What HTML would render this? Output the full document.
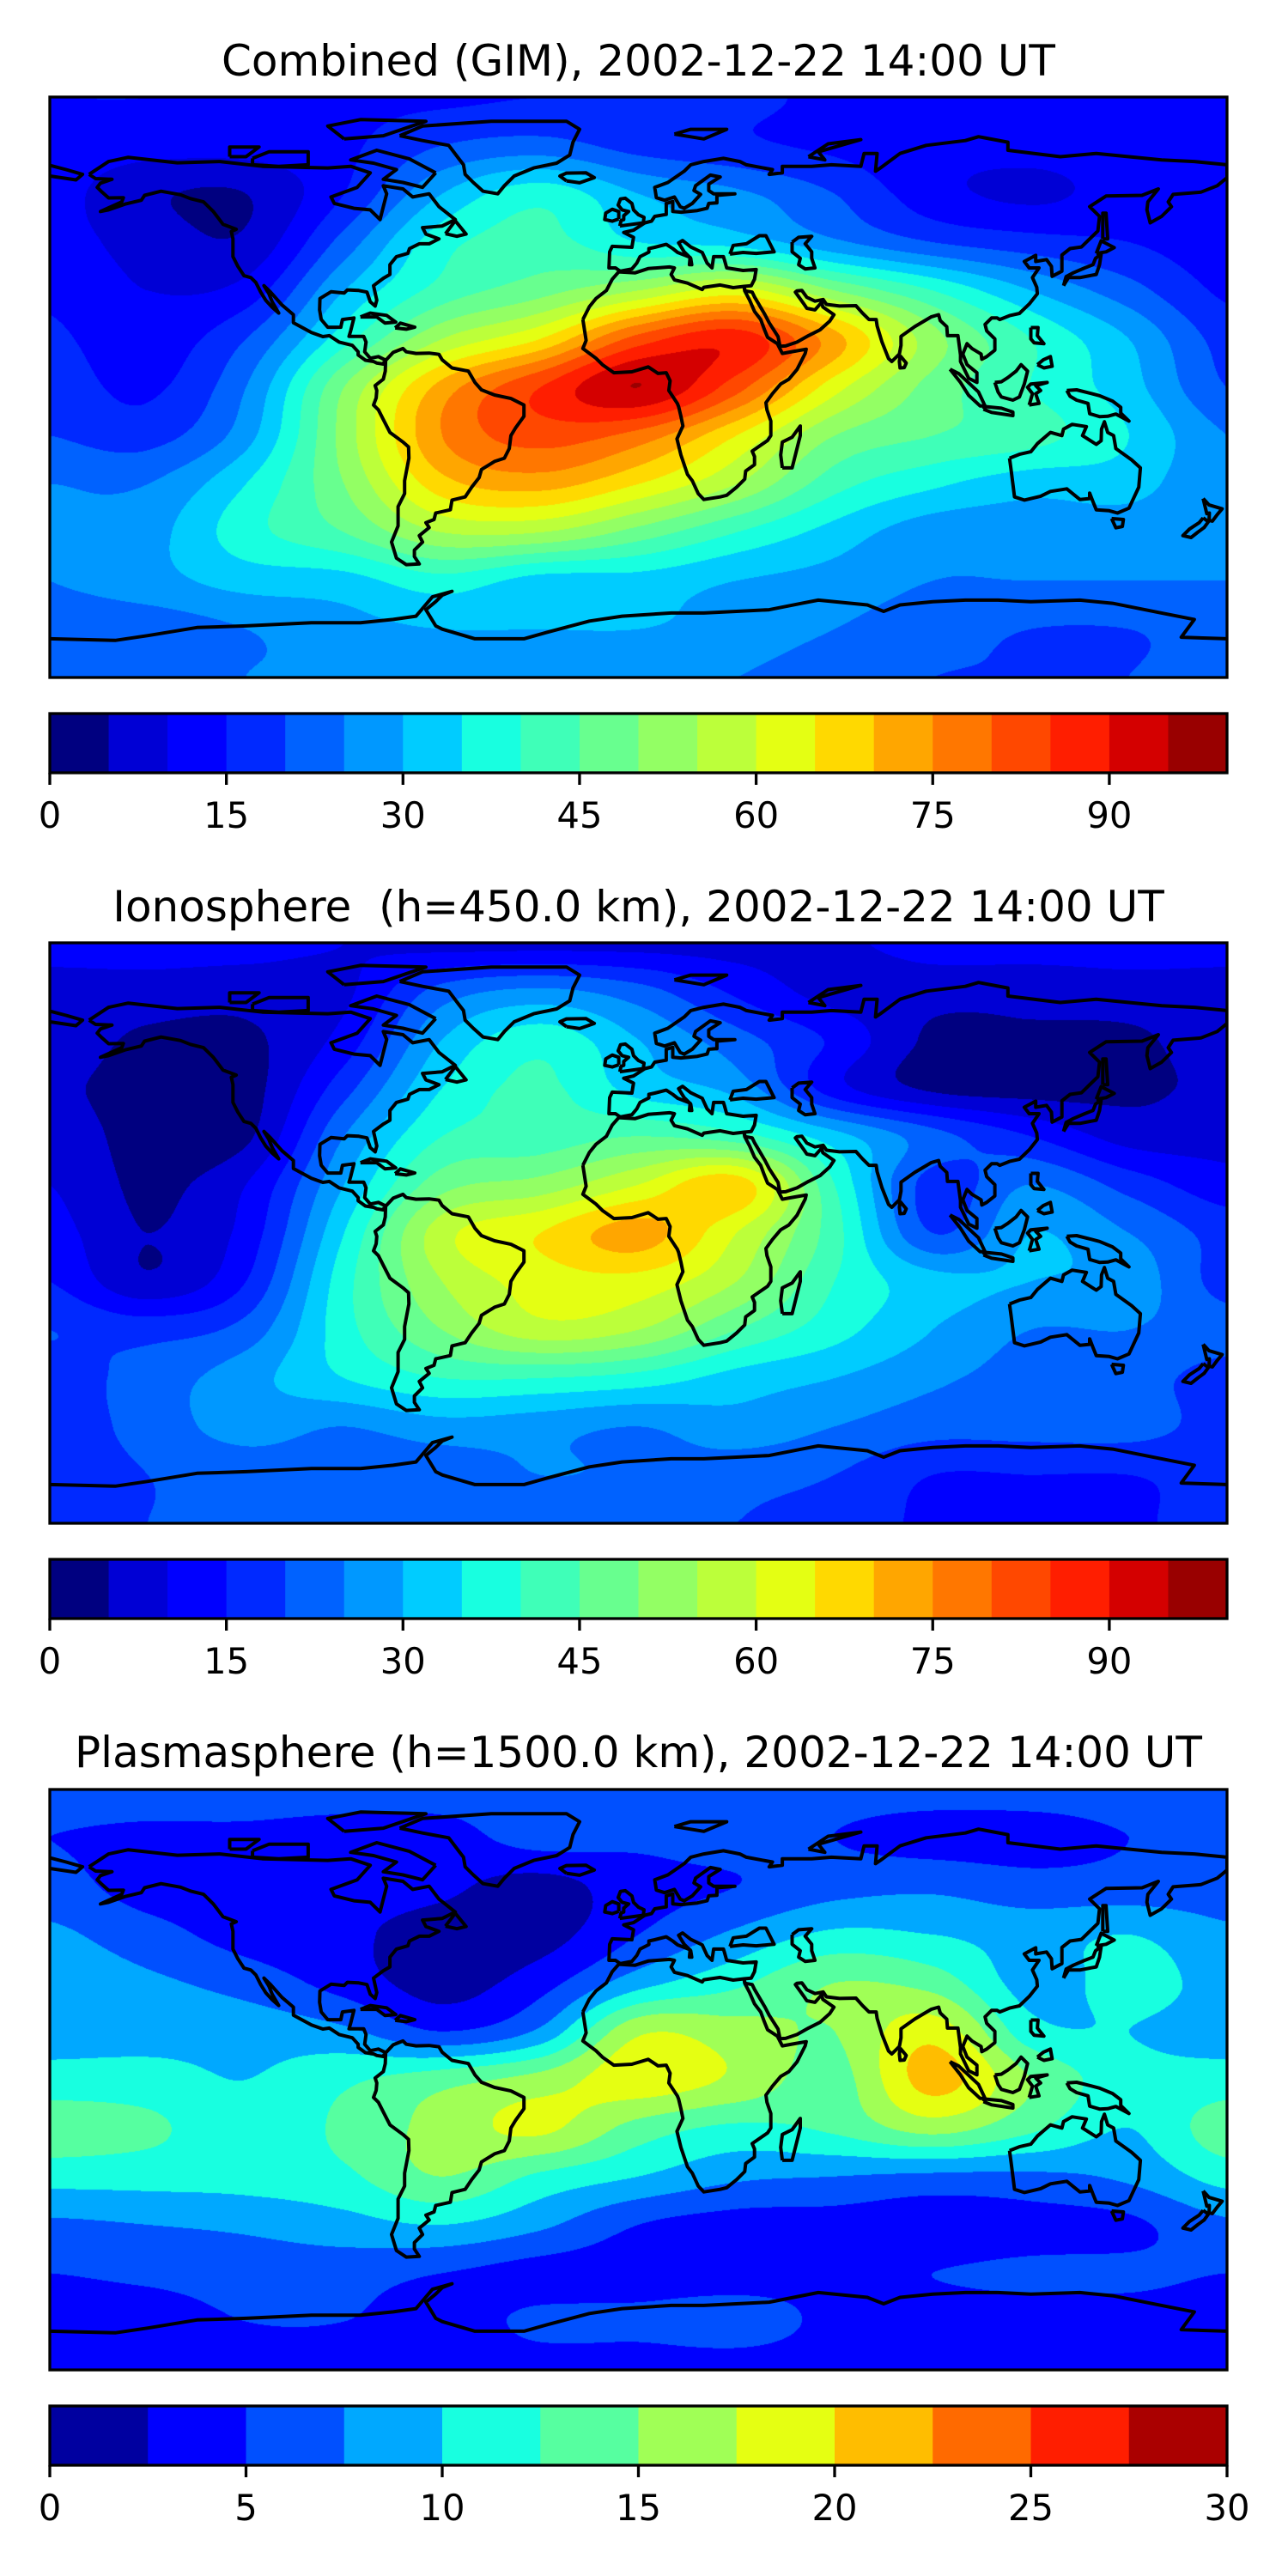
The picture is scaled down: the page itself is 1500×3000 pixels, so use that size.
<!DOCTYPE html>
<html><head><meta charset="utf-8">
<style>
html,body{margin:0;padding:0;background:#fff;}
#root{position:relative;width:1500px;height:3000px;overflow:hidden;background:#fff;}
canvas{position:absolute;}
svg{position:absolute;left:0;top:0;}
text{font-family:"DejaVu Sans","Liberation Sans",sans-serif;fill:#000;}
</style></head>
<body>
<div id="root">
<canvas id="c0" width="1371" height="676" style="left:58px;top:113px"></canvas>
<canvas id="c1" width="1371" height="676" style="left:58px;top:1098px"></canvas>
<canvas id="c2" width="1371" height="676" style="left:58px;top:2084px"></canvas>
<svg id="ov" width="1500" height="3000" xmlns="http://www.w3.org/2000/svg">
<text x="743.5" y="88" font-size="50" text-anchor="middle">Combined (GIM), 2002-12-22 14:00 UT</text>
<text x="743.5" y="1073" font-size="50" text-anchor="middle" xml:space="preserve" style="white-space:pre">Ionosphere  (h=450.0 km), 2002-12-22 14:00 UT</text>
<text x="743.5" y="2058" font-size="50" text-anchor="middle">Plasmasphere (h=1500.0 km), 2002-12-22 14:00 UT</text>
</svg>
</div>
<script>
// ---- grid axes ----
const LONS = [-180,-150,-120,-90,-60,-30,0,30,60,90,120,150,180];
const LATS = [90,75,60,45,30,15,0,-15,-30,-45,-60,-75,-90];
// ---- combined TEC (TECU) ----
const combinedTEC = [
[15,15,14,14,14,15,15,16,14,14,14,14,15],
[13,12,12,14,20,22,18,16,14,12,12,13,13],
[12,6,5,15,30,38,30,26,20,12,9,12,12],
[12,8,6,22,38,42,35,33,26,20,17,15,12],
[14,10,12,30,42,48,55,62,50,40,30,22,14],
[16,12,20,38,55,65,82,88,72,52,40,30,18],
[18,14,25,50,72,85,95,82,62,48,40,32,20],
[20,18,28,52,75,82,78,65,50,45,42,35,25],
[25,25,35,50,68,72,65,55,42,36,32,32,25],
[25,28,38,45,55,55,48,40,33,27,27,27,25],
[25,28,32,33,38,33,33,30,28,25,25,25,25],
[22,22,25,28,30,30,30,28,25,22,20,20,22],
[22,22,25,25,25,25,25,25,22,20,20,20,22]];
// ---- ionosphere TEC ----
const ionoTEC = [
[12,12,12,10,8,8,8,8,9,12,12,12,12],
[8,8,7,9,22,26,22,14,8,7,7,8,8],
[8,4,4,12,30,38,30,22,14,4,4,4,8],
[6,3,3,18,35,41,33,28,12,4,3,4,6],
[8,3,4,25,40,42,45,42,32,22,15,8,8],
[10,4,10,30,48,52,60,68,40,18,25,18,12],
[12,5,12,35,58,65,72,60,42,20,30,25,18],
[15,6,15,38,55,62,63,55,40,32,30,28,18],
[20,18,22,38,50,58,55,45,37,30,25,25,22],
[18,22,28,35,40,40,38,33,30,26,23,22,18],
[17,22,27,25,28,27,25,28,25,22,22,22,18],
[17,20,22,22,22,25,24,22,20,15,15,15,17],
[20,20,22,22,22,22,22,20,18,14,14,14,18]];
// ---- plasmasphere TEC ----
const plasmaTEC = [
[6,6,6,6,6,6,6,6,6,6,6,6,6],
[5,4.5,4.5,4,4,6,5.5,6,5,4,4,5,5],
[6,4,4,3.5,3,1.5,4,5,6.5,7,6,6,6],
[8,6,4,3,1.5,1.5,5,8,10.5,10,9,10,8],
[9,8,6.5,4,1.5,4,9,12,15,14,9,11,9],
[9,9,9,8,5,8,17,16,15,19,11,10,9],
[11,11,10,12,14,16,19,17,14,21,15,11,11],
[14,13,11,13,16,18,14,12,13,16,13,10,14],
[11,11,11,12,15,12,10,8,7.5,7,7,8,11],
[7,7.5,8,9,10,8,5,4,4,3.5,4,4.5,7],
[5,5.5,6,6,5,4,4,4,4.5,5,5.5,5.5,5],
[4,4,5,5,4,5.5,5.5,6,4.5,4,4,4,4],
[4,4,4,4,4,4,4,4,4,4,4,4,4]];
// ---- colorbar ticks ----
const ticksTEC = [0,15,30,45,60,75,90];
const ticksPlasma = [0,5,10,15,20,25,30];
const colors20 = ["#000080","#0000d5","#0000ff","#0029ff","#0062ff","#0098ff","#00ccff","#18ffe0","#3fffb8","#68ff8f","#93ff64","#bcff3a","#e4ff13","#ffd900","#ffa600","#ff7700","#ff4800","#ff1e00","#d40000","#990000"];
const colors12 = ["#0000a0","#0000ff","#0050ff","#00a8ff","#18ffe0","#56ffa0","#a0ff56","#e5ff12","#ffbd00","#ff6a00","#ff1e00","#aa0000"];

const coasts = [
[[-168,66],[-162,70],[-156,71.3],[-141,69.6],[-128,70],[-115,68.5],[-95,68],[-88,68.5],[-82,66.5],[-86,62],[-94,59],[-93,57],[-87,55.5],[-82,55],[-79,52],[-78,56],[-77,60],[-78,62.5],[-72,61.5],[-69,59],[-64,60],[-61,56],[-56,52],[-60,50],[-66,49.5],[-65,47.5],[-61,46],[-64,44.5],[-67,44.5],[-70,43],[-70.5,41.5],[-74,40.5],[-76,38],[-76,35],[-78,33.8],[-81,31.5],[-80,27],[-80.5,25.2],[-82,26.5],[-83,29.5],[-85.5,30],[-89,30.2],[-90,29.2],[-94,29.6],[-97.4,27.5],[-97.5,24],[-97,21],[-95,18.6],[-91,18.6],[-90.5,21],[-87,21.5],[-88,17.5],[-88.5,15.8],[-84,15.8],[-83.3,14],[-83.7,11],[-82,9],[-79.5,9.5],[-77.5,8.5],[-78,7.2],[-80,7.5],[-81,8],[-83.5,8.4],[-85.7,10],[-85.7,11],[-87.5,13],[-91.5,14],[-94.5,16],[-96.5,15.7],[-100,17],[-105.5,20],[-105.5,22.5],[-109,25.5],[-112.5,29.5],[-114.5,31.5],[-113,29],[-112,26.5],[-110,23],[-112,24.8],[-114,27],[-115.5,29.5],[-117,32.5],[-118.5,34],[-120.6,34.6],[-122.5,37.5],[-124,40.5],[-124,46],[-124.5,48.3],[-123,49],[-127,50.5],[-130,54.5],[-133,57.5],[-137,58.5],[-140,59.7],[-146,60.8],[-151,59.5],[-152,58],[-157,56.8],[-162,55],[-164.5,54.5],[-158,57.5],[-157.5,58.8],[-162,58.7],[-164,60.5],[-165.5,62],[-164.5,63.3],[-161,64.5],[-166,64.7],[-168,66]],
[[-77.3,8.3],[-75,10.8],[-72,12],[-71,11],[-68,10.5],[-64,10.6],[-61,10.2],[-60,8.5],[-57,6],[-52,5],[-50,1.5],[-48,-0.8],[-44,-2.4],[-39,-3.5],[-35,-5.5],[-35,-9],[-37.5,-12.5],[-39,-15],[-39.5,-19],[-41,-22],[-44,-23],[-48,-25.5],[-48.7,-28],[-51,-31],[-53,-34],[-57,-35],[-57.5,-38],[-62,-39],[-62.5,-41],[-65,-42],[-64,-43.5],[-67,-46],[-66,-48],[-68.5,-50.5],[-68.5,-52.5],[-67,-54.8],[-71,-55],[-74,-53],[-75.5,-48],[-73.5,-43],[-73.5,-37],[-71.5,-33],[-71.5,-29],[-70.2,-22],[-70.3,-18.5],[-72,-17],[-76,-14],[-78,-10],[-79.5,-7],[-81,-5.5],[-80.2,-3.3],[-80,-1],[-80.5,0.5],[-78,2.5],[-77.4,5],[-77.3,8.3]],
[[-73,78],[-66,81],[-45,82.5],[-22,82.5],[-18,80],[-20,76],[-21,72],[-25,69.5],[-32,68],[-38,65.5],[-41,62.5],[-43,60],[-47.5,60.8],[-50.5,63.5],[-53,66],[-53.5,69],[-55,71],[-58,75],[-66,76.5],[-73,78]],
[[-62,66.5],[-66,62],[-72,63.5],[-78,64.5],[-74,67.5],[-81,69.5],[-88,70.5],[-80,73.5],[-70,70.8],[-62,66.5]],
[[-118,71],[-113,73],[-101,73],[-101,69],[-110,68.5],[-118,69],[-118,71]],
[[-90,77],[-78,78],[-65,82.5],[-85,83],[-95,81],[-90,77]],
[[-125,71.5],[-125,74.5],[-116,74.5],[-120,71.5],[-125,71.5]],
[[-17,21],[-16,14.5],[-17,12],[-13,9],[-11,7],[-7.5,4.5],[-2,4.8],[3,6.3],[6,4.3],[8.5,4.5],[9.7,2],[9.3,-1],[11.9,-5],[12.3,-6],[13,-9],[13.6,-12],[11.8,-16],[13,-21],[15,-27],[16.5,-29],[18.3,-33],[20,-34.8],[25,-34],[27,-33.5],[30,-31],[32.5,-28.5],[32.8,-26],[35.5,-24],[35.5,-21.5],[34.8,-19.8],[39.5,-16.5],[40.5,-15],[40.5,-10.5],[39.3,-7],[39,-4.8],[41,-2],[43.5,1],[46,2.5],[48.5,5.5],[51,10.5],[51.3,11.8],[48,11.2],[44,10.5],[43.3,11.9],[42.5,13.5],[39.5,15.5],[38.5,18],[37.4,21],[35.5,23.5],[34,27],[32.5,29.9],[32.3,31.3],[29,30.9],[25,31.7],[20,31],[19.5,30.3],[15,32.3],[11,33.3],[10,35],[11,37],[9.5,37.3],[3,36.8],[-1,35.5],[-6,35.8],[-8,33.5],[-9.8,30],[-13,27.5],[-15,25],[-17,21]],
[[44,-25],[47,-25],[49.5,-15],[49.5,-12],[47,-15.5],[44,-17],[43.5,-21],[44,-25]],
[[32.3,31.3],[34.5,31.5],[35.5,33.5],[36,36.5],[32,36.2],[27,37],[26.3,39.5],[26,40.5],[23,40.5],[22.5,37],[21,38.5],[19.5,41.8],[16,43.5],[13.5,45.5],[12.3,44.8],[14,42],[16,40],[16.3,38],[15.6,38],[15.8,40.3],[12,41.8],[10.5,43],[8.5,44.3],[5,43.4],[3.2,43],[3.2,41.9],[0.5,40.5],[-0.5,38.5],[-2,36.7],[-5.6,36],[-7,37],[-9,37],[-8.8,42],[-8,43.7],[-2,43.4],[-1.5,46.5],[-4.5,48],[-1.5,48.7],[2,51],[4,51.5],[5,53],[8.5,53.6],[8.5,57],[10.5,57.6],[10.5,54.5],[13,54.3],[18,54.8],[21,55.5],[21.5,57],[24,57.2],[24,59.5],[29.5,60],[23,60],[21.5,61],[21.5,63],[25,65.2],[22,65.8],[17.5,62.5],[17,61],[19,59.8],[16.5,57],[14,55.5],[12.8,56],[11,59],[8,58],[5.5,58.8],[5,62],[9,63.5],[14,67],[16,69],[20,70],[26,71],[31,70],[33,69],[41,67.5],[40,66],[44,66.5],[44,68.5],[53,68.5],[59,69],[68,68.5],[69,72.5],[73,72.5],[72.5,67],[74,68],[80,72.5],[88,75],[100,76.5],[104,77.7],[113,76],[113,73.5],[129,71.5],[140,72.5],[150,71.5],[160,70.5],[170,70],[180,69],[180,65],[177,62.5],[172,60.5],[163.5,59.8],[162,57.5],[163,56],[160,53],[156.5,51],[155.5,55],[155.8,57.5],[159,61.5],[154,59.5],[143,59.3],[138,56],[141,53],[140.5,48.5],[135.5,43.5],[132,43],[129.5,41],[129.5,36],[126.5,34.4],[126.3,37.5],[124.8,39.6],[121.5,39],[121.5,40.9],[118,39],[119.5,37],[122.5,37],[120.5,34],[121.8,31],[122,29],[119.5,25.8],[116.5,22.9],[113.5,22.2],[110.5,21],[109.7,21.5],[108,21.5],[106,19.5],[106.5,17.5],[109,15],[109,11.5],[106.5,9.5],[105,8.7],[104.8,10.3],[102,12],[100.5,13.5],[99.2,10.3],[100.5,7],[103.5,4.5],[103.5,1.5],[101,2.8],[98.5,8],[98.5,10],[97.7,16],[94.5,16],[94.3,18.8],[92.3,20.7],[91.8,22.5],[89.5,21.8],[86.5,20],[84.5,18.8],[80.3,15.8],[80.3,13],[79.8,10.3],[77.5,8],[76.5,8.9],[74.5,14],[73,19],[72.7,21],[70.5,21],[68.5,23],[66.5,25.3],[61.5,25.2],[57.5,25.7],[56.5,27.2],[54,26.7],[51.5,27.9],[50,30],[48.5,29.9],[48,29.5],[50.5,26],[51.5,24.5],[54,24],[56,26.3],[56.4,24.9],[59.8,22.5],[58.5,20.5],[55.5,17.8],[52,16],[48.5,14],[45,12.8],[43.3,12.7],[42.7,15.7],[40,20],[38.7,22.5],[35.5,28],[34.8,29.5],[32.6,29.9],[32.3,31.3]],
[[-180,68.8],[-175,67.5],[-170,66],[-172,64.3],[-180,65.5]],
[[28,41.3],[29,44],[33,44.5],[37,47],[39,47],[41.5,42],[36,41.5],[32,41.8],[28,41.3]],
[[47,45],[47,42],[49.5,40],[49,38],[51,36.7],[54,37],[53,40],[53,42],[51,44.5],[53,46.8],[49,46.5],[47,45]],
[[-5.7,50],[1.5,51],[1.7,52.7],[0,53.5],[-1.5,55],[-2,57],[-4,58.6],[-5.5,58.4],[-6.2,56.5],[-5,55],[-3,54.5],[-4.5,53.2],[-4.5,52],[-5.3,51.7],[-5.7,50]],
[[-6,52.2],[-6,54.5],[-8,55.2],[-10,54],[-10.3,52],[-8,51.5],[-6,52.2]],
[[-22,64],[-24,65.5],[-22,66.4],[-16,66.5],[-13.5,65],[-18,63.4],[-22,64]],
[[130,31.5],[131.5,34],[135,34],[140,35],[141,38],[141.5,41.3],[139.8,40],[139,38],[136.5,37],[133,35.5],[130.8,34.3],[130,31.5]],
[[140,41.5],[141.5,45.4],[145.5,43.3],[143,42],[140,41.5]],
[[142,46],[142,54],[143,54],[143.5,46],[142,46]],
[[120,18.5],[122.2,18.5],[122,16],[124,13.5],[121,13.8],[120,15],[120,18.5]],
[[122,7],[124,6],[126.5,6.5],[126,9.5],[123.8,8.5],[122,7]],
[[109,1.5],[110,-1.5],[111,-3],[114.5,-4],[116.5,-3],[118,1],[119,5],[117,7],[115.5,5],[113,3],[111,1.7],[109,1.5]],
[[95.3,5.6],[98,4.2],[104,-1.5],[106,-5.8],[104.5,-5.8],[101,-2.5],[98.5,1.5],[95.3,5.6]],
[[105.5,-6.8],[106,-6],[111,-6.5],[114.5,-7.7],[114.5,-8.8],[108,-7.8],[105.5,-6.8]],
[[119.5,-5.5],[120.5,-2],[119,0],[120,1],[125,1.5],[121.5,0.5],[123,-1],[121.5,-2],[122.5,-5],[119.5,-5.5]],
[[131,-1],[134,-0.8],[138,-1.8],[141,-2.6],[145,-4.3],[147.5,-6.2],[147.5,-8],[150,-10.5],[146,-8.3],[143.5,-9],[141,-9.1],[138,-8.2],[137.5,-5],[134,-4],[132,-2.8],[131,-1]],
[[113.5,-22],[114,-26],[115,-34],[118,-35],[123,-33.8],[126,-32.3],[131,-31.5],[135,-34.8],[138,-34.5],[138,-32.8],[139,-35.5],[140,-38],[144,-38.3],[146.5,-39],[150,-37.5],[153,-31],[153.5,-25],[150.8,-22.5],[146,-19],[145.3,-15],[143.5,-14],[142.5,-10.7],[141.6,-13],[141.5,-16.6],[140,-17.7],[135.8,-15],[137,-12.2],[132.6,-11.5],[130,-13],[129.5,-15],[126,-14],[122,-17.5],[120,-20],[116.5,-20.8],[113.5,-22]],
[[144.7,-40.7],[148.3,-41],[148,-43.2],[146,-43.6],[144.7,-40.7]],
[[172.7,-34.5],[174.5,-36.5],[178.5,-37.7],[177,-39.5],[175.5,-41.5],[174.5,-41.3],[174.6,-39],[173.8,-39.2],[172.7,-34.5]],
[[172.7,-40.5],[174.3,-41.7],[173,-43.5],[171,-45],[169,-46.6],[166.5,-46],[168.5,-44],[171.5,-42],[172.7,-40.5]],
[[80,9.8],[81.9,7.5],[81.3,6.1],[80,6],[79.8,8],[80,9.8]],
[[-85,21.8],[-82,23],[-77,22.3],[-74.2,20.2],[-77.5,19.9],[-80,21.8],[-85,21.8]],
[[-74.4,18.4],[-72.8,19.9],[-68.4,18.6],[-71,18],[-74.4,18.4]],
[[-59,47.6],[-56,51.6],[-52.7,47.5],[-55.5,46.8],[-59,47.6]],
[[52,71.5],[57,70.5],[55,73],[68,76.8],[58,75.5],[52,71.5]],
[[11,78.5],[16,80],[27,80],[20,77],[11,78.5]],
[[-180,-78],[-160,-78.5],[-150,-77],[-135,-74.5],[-120,-74],[-100,-73],[-85,-73],[-75,-72],[-68,-71],[-63,-65],[-57,-63.3],[-60,-64.5],[-62,-66.5],[-65,-69],[-62,-74],[-60,-75],[-50,-78],[-35,-78],[-28,-76],[-15,-72.5],[-5,-71],[10,-70],[20,-70],[30,-69.5],[40,-69],[50,-67],[55,-66],[70,-67.5],[75,-69.5],[80,-67.5],[90,-66.5],[100,-66],[110,-66],[120,-66.5],[135,-66],[145,-67],[160,-70],[170,-72],[166,-77.5],[180,-78]]
];

const MX = 58, MW = 1371, MH = 676;
const panels = [
  {top:113, data:combinedTEC, colors:colors20, vmax:100, ticks:ticksTEC, name:'combined'},
  {top:1098, data:ionoTEC, colors:colors20, vmax:100, ticks:ticksTEC, name:'ionosphere'},
  {top:2084, data:plasmaTEC, colors:colors12, vmax:30, ticks:ticksPlasma, name:'plasmasphere'}
];
function hex(c){return [parseInt(c.substr(1,2),16),parseInt(c.substr(3,2),16),parseInt(c.substr(5,2),16)];}
function cr(p0,p1,p2,p3,t){return 0.5*((2*p1)+(-p0+p2)*t+(2*p0-5*p1+4*p2-p3)*t*t+(-p0+3*p1-3*p2+p3)*t*t*t);}
function sample(g,u,v){
  const nr=g.length,nc=g[0].length;
  const i=Math.min(Math.floor(v),nr-2), j=Math.min(Math.floor(u),nc-2);
  const tv=v-i, tu=u-j;
  const rows=[];
  for(let a=-1;a<=2;a++){
    const r=g[Math.max(0,Math.min(nr-1,i+a))];
    const c=k=>r[Math.max(0,Math.min(nc-1,j+k))];
    rows.push(cr(c(-1),c(0),c(1),c(2),tu));
  }
  return cr(rows[0],rows[1],rows[2],rows[3],tv);
}
const lonStep = LONS[1]-LONS[0], latStep = LATS[0]-LATS[1];
panels.forEach((p,pi)=>{
  const cv=document.getElementById('c'+pi), ctx=cv.getContext('2d');
  const img=ctx.createImageData(MW,MH), d=img.data;
  const rgb=p.colors.map(hex), n=p.colors.length, step=p.vmax/n;
  for(let y=0;y<MH;y++){
    const lat=90-(y+0.5)/MH*180, v=(LATS[0]-lat)/latStep;
    for(let x=0;x<MW;x++){
      const lon=-180+(x+0.5)/MW*360, u=(lon-LONS[0])/lonStep;
      let k=Math.floor(sample(p.data,u,v)/step); k=Math.max(0,Math.min(n-1,k));
      const o=(y*MW+x)*4, c=rgb[k];
      d[o]=c[0];d[o+1]=c[1];d[o+2]=c[2];d[o+3]=255;
    }
  }
  ctx.putImageData(img,0,0);
});

const NS='http://www.w3.org/2000/svg', ov=document.getElementById('ov');
function el(tag,attrs,parent){const e=document.createElementNS(NS,tag);for(const k in attrs)e.setAttribute(k,attrs[k]);(parent||ov).appendChild(e);return e;}
panels.forEach((p,pi)=>{
  const px=lon=>MX+(lon+180)/360*MW, py=lat=>p.top+(90-lat)/180*MH;
  const g=el('g',{'clip-path':'url(#clip'+pi+')'});
  
  
  const cp=el('clipPath',{id:'clip'+pi});
  el('rect',{x:MX,y:p.top,width:MW,height:MH},cp);
  coasts.forEach(poly=>{
    const dstr=poly.map((q,i)=>(i?'L':'M')+px(q[0]).toFixed(1)+' '+py(q[1]).toFixed(1)).join('');
    const path=el('path',{d:dstr,fill:'none',stroke:'#000','stroke-width':4,'stroke-linejoin':'round'},g);
    
    
  });
  const fr=el('rect',{x:MX,y:p.top,width:MW,height:MH,fill:'none',stroke:'#000','stroke-width':3.3});
  
  
  // colorbar
  const cbTop=p.top+718, cbH=69, n=p.colors.length, w=MW/n;
  const cb=el('g',{});
  
  
  p.colors.forEach((c,i)=>{
    const r=el('rect',{x:MX+i*w,y:cbTop,width:w+0.6,height:cbH,fill:c},cb);
    
    
  });
  el('rect',{x:MX,y:cbTop,width:MW,height:cbH,fill:'none',stroke:'#000','stroke-width':3.3},cb);
  p.ticks.forEach(t=>{
    const x=MX+t/p.vmax*MW;
    el('line',{x1:x,y1:cbTop+cbH,x2:x,y2:cbTop+cbH+14,stroke:'#000','stroke-width':3.3},cb);
    const tx=el('text',{x:x,y:cbTop+cbH+64,'font-size':41.7,'text-anchor':'middle'},cb);
    tx.textContent=String(t);
    
    
  });
});
</script>
</body></html>
